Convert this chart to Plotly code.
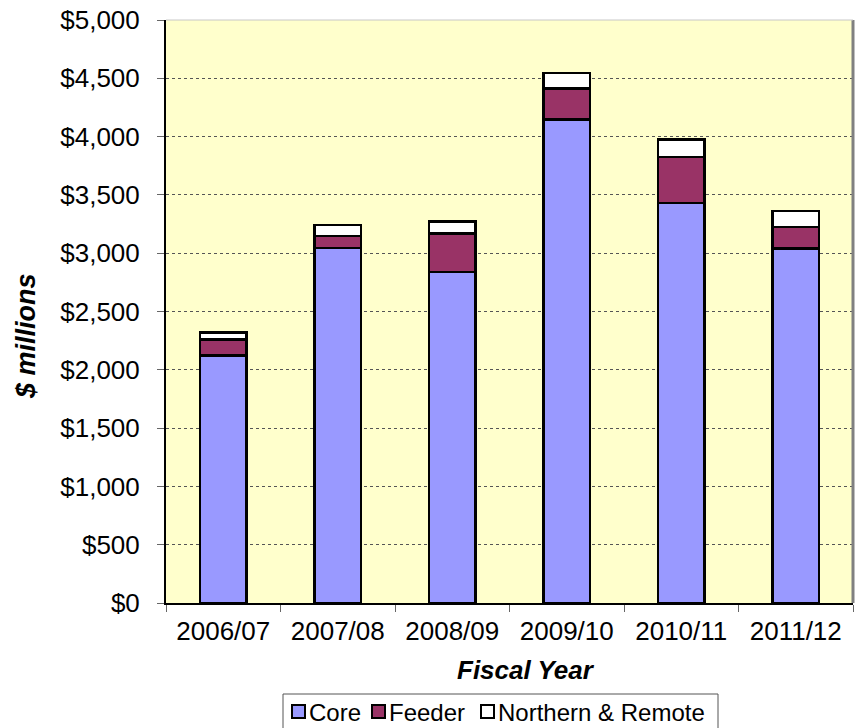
import plotly.graph_objects as go

years = ["2006/07", "2007/08", "2008/09", "2009/10", "2010/11", "2011/12"]
core = [2123, 3046, 2840, 4146, 3432, 3040]
feeder = [137, 103, 329, 266, 391, 183]
northern = [58, 91, 105, 134, 152, 137]
series_names = ["Core", "Feeder", "Northern & Remote"]
series_colors = ["#9999FF", "#993366", "#FFFFFF"]
y_ticks = [0, 500, 1000, 1500, 2000, 2500, 3000, 3500, 4000, 4500, 5000]
y_tick_text = ["$0", "$500", "$1,000", "$1,500", "$2,000", "$2,500", "$3,000",
               "$3,500", "$4,000", "$4,500", "$5,000"]

FONT = "Liberation Sans, Arial, sans-serif"
W, H = 855, 728
ML, MR, MT, MB = 166, 2, 20, 125
PW, PH = W - ML - MR, H - MT - MB


def px_x(px):
    return (px - ML) / PW


def px_y(py):
    return (H - MB - py) / PH


fig = go.Figure()
for name, vals, color in zip(series_names, [core, feeder, northern], series_colors):
    fig.add_trace(go.Bar(
        x=years, y=vals, name=name,
        marker=dict(color=color, line=dict(color="#000000", width=2.5)),
    ))

fig.update_layout(
    barmode="stack",
    bargap=0.59,
    width=W, height=H,
    margin=dict(l=ML, r=MR, t=MT, b=MB),
    paper_bgcolor="#FFFFFF",
    plot_bgcolor="#FFFFCC",
    font=dict(family=FONT, size=26, color="#000000"),
    showlegend=False,
    xaxis=dict(
        showline=True, linecolor="#000000", linewidth=2,
        ticks="outside", tickson="boundaries", ticklen=7, tickcolor="#666666",
        tickfont=dict(size=26), ticklabelstandoff=4,
        showgrid=False,
    ),
    yaxis=dict(
        range=[0, 5000],
        tickvals=y_ticks, ticktext=y_tick_text,
        showline=True, linecolor="#000000", linewidth=2,
        ticks="outside", ticklen=7, tickcolor="#666666",
        tickfont=dict(size=26), ticklabelstandoff=12,
        showgrid=True, gridcolor="#555555", griddash="dot", gridwidth=1,
        zeroline=False,
    ),
)

# axis titles
fig.add_annotation(text="<b><i>$ millions</i></b>", xref="paper", yref="paper",
                   x=px_x(26), y=px_y(336), textangle=-90, showarrow=False,
                   font=dict(size=27), xanchor="center", yanchor="middle")
fig.add_annotation(text="<b><i>Fiscal Year</i></b>", xref="paper", yref="paper",
                   x=px_x(526), y=px_y(670), showarrow=False,
                   font=dict(size=26), xanchor="center", yanchor="middle")

# plot area border pieces
fig.add_shape(type="line", xref="paper", yref="paper", x0=1, x1=1, y0=0, y1=1,
              line=dict(color="#808080", width=3))
fig.add_shape(type="line", xref="paper", yref="paper", x0=0, x1=1, y0=1, y1=1,
              line=dict(color="#C8C8C8", width=1))

# legend (custom, compact like the original)
fig.add_shape(type="rect", xref="paper", yref="paper",
              x0=px_x(283), x1=px_x(718), y0=px_y(694), y1=px_y(732),
              line=dict(color="#555555", width=1), fillcolor="#FFFFFF")
legend_square_x = [292, 372, 481]
for name, color, sx in zip(series_names, series_colors, legend_square_x):
    fig.add_shape(type="rect", xref="paper", yref="paper",
                  x0=px_x(sx), x1=px_x(sx + 13), y0=px_y(705), y1=px_y(718),
                  line=dict(color="#000000", width=2), fillcolor=color)
    fig.add_annotation(text=name, xref="paper", yref="paper",
                       x=px_x(sx + 16), y=px_y(712), showarrow=False,
                       xanchor="left", yanchor="middle", font=dict(size=24),
                       borderpad=0)

fig.write_html("out.html")
